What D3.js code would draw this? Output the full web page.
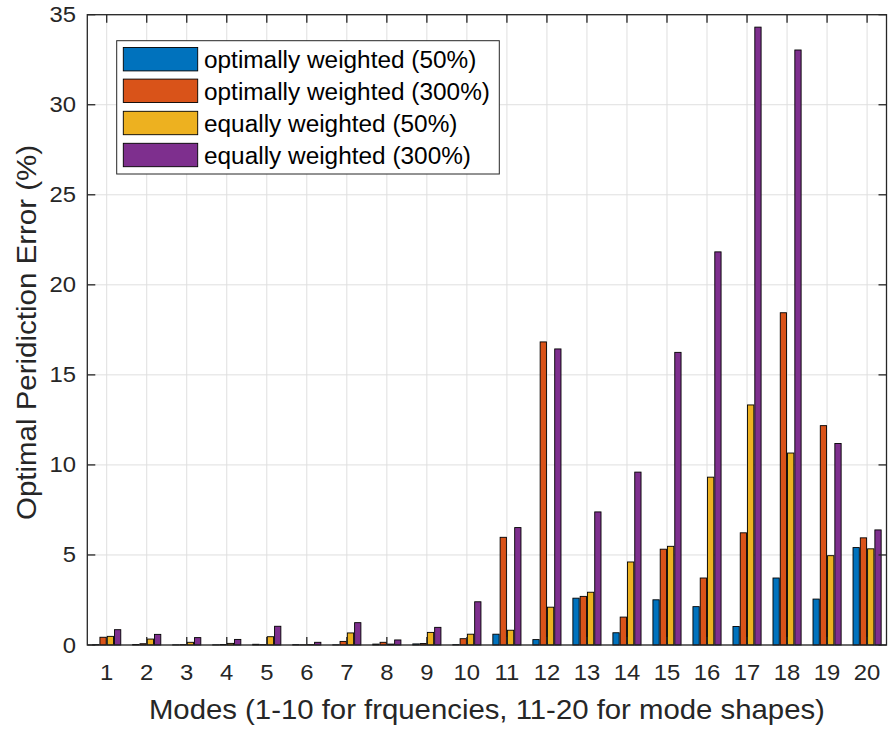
<!DOCTYPE html>
<html>
<head>
<meta charset="utf-8">
<script src="https://cdn.jsdelivr.net/npm/d3@7"></script>
<style>
  html, body { margin: 0; padding: 0; background: #fff; }
  svg { display: block; font-family: "Liberation Sans", Arial, Helvetica, sans-serif; }
</style>
</head>
<body>
<svg id="chart" width="888" height="729"></svg>
<script>
// Modes 1-10 are natural frequencies, 11-20 are mode shapes
const modes = d3.range(1, 21);

const seriesNames = [
  "optimally weighted (50%)",
  "optimally weighted (300%)",
  "equally weighted (50%)",
  "equally weighted (300%)"
];
const seriesColors = ["#0072BD", "#D95319", "#EDB120", "#7E2F8E"];

const optimal50  = [0.02, 0.03, 0.01, 0.01, 0.04, 0.02, 0.01, 0.05, 0.06, 0.02,
                    0.60, 0.30, 2.60, 0.68, 2.51, 2.13, 1.03, 3.72, 2.55, 5.41];
const optimal300 = [0.43, 0.07, 0.02, 0.03, 0.02, 0.01, 0.20, 0.15, 0.08, 0.35,
                    5.98, 16.83, 2.70, 1.55, 5.32, 3.72, 6.23, 18.45, 12.18, 5.95];
const equal50    = [0.48, 0.33, 0.15, 0.09, 0.46, 0.02, 0.67, 0.05, 0.70, 0.60,
                    0.82, 2.10, 2.93, 4.61, 5.48, 9.32, 13.33, 10.66, 4.96, 5.34];
const equal300   = [0.85, 0.59, 0.41, 0.31, 1.04, 0.15, 1.24, 0.28, 0.98, 2.40,
                    6.52, 16.44, 7.39, 9.60, 16.25, 21.83, 34.31, 33.04, 11.19, 6.39];

const yTicks = [0, 5, 10, 15, 20, 25, 30, 35];
const xLabel = "Modes (1-10 for frquencies, 11-20 for mode shapes)";
const yLabel = "Optimal Peridiction Error (%)";

const seriesValues = [optimal50, optimal300, equal50, equal300];

// Axes box
const boxL = 87.3, boxR = 886.5, boxT = 14.7, boxB = 645;
const svg = d3.select("#chart");

const x = d3.scaleLinear().domain([0.515, 20.485]).range([boxL, boxR]);
const y = d3.scaleLinear().domain([0, 35]).range([boxB, boxT]);

const axisColor = "#262626";
const gridColor = "#dfdfdf";
const tickLen = 8;
const textStretch = 1.06;   // slightly wide lettering

// Grid
const grid = svg.append("g");
grid.selectAll("line.gx").data(modes).join("line")
  .attr("x1", d => x(d)).attr("x2", d => x(d))
  .attr("y1", boxT).attr("y2", boxB)
  .attr("stroke", gridColor).attr("stroke-width", 1);
grid.selectAll("line.gy").data(yTicks).join("line")
  .attr("x1", boxL).attr("x2", boxR)
  .attr("y1", d => y(d)).attr("y2", d => y(d))
  .attr("stroke", gridColor).attr("stroke-width", 1);

// Grouped bars
const groupPitch = 0.182;   // bar pitch within a group, in mode units
const barW = 0.157;         // bar width, in mode units
const unit = x(1) - x(0);
const bars = svg.append("g");
seriesValues.forEach((vals, s) => {
  const off = (s - 1.5) * groupPitch;
  bars.append("g").selectAll("rect").data(vals).join("rect")
    .attr("x", (d, i) => x(modes[i] + off) - barW * unit / 2)
    .attr("width", barW * unit)
    .attr("y", d => y(d))
    .attr("height", d => y(0) - y(d))
    .attr("fill", seriesColors[s])
    .attr("stroke", "#000")
    .attr("stroke-width", 0.9);
});

// Axes box and inward ticks
const ax = svg.append("g").attr("stroke", axisColor).attr("stroke-width", 1.3);
ax.append("rect").attr("x", boxL).attr("y", boxT)
  .attr("width", boxR - boxL).attr("height", boxB - boxT)
  .attr("fill", "none");
modes.forEach(m => {
  ax.append("line").attr("x1", x(m)).attr("x2", x(m)).attr("y1", boxB).attr("y2", boxB - tickLen);
  ax.append("line").attr("x1", x(m)).attr("x2", x(m)).attr("y1", boxT).attr("y2", boxT + tickLen);
});
yTicks.forEach(t => {
  ax.append("line").attr("x1", boxL).attr("x2", boxL + tickLen).attr("y1", y(t)).attr("y2", y(t));
  ax.append("line").attr("x1", boxR).attr("x2", boxR - tickLen).attr("y1", y(t)).attr("y2", y(t));
});

// Stretch a text element horizontally along its own run
function widen(sel) {
  sel.each(function () {
    const w = this.getComputedTextLength();
    d3.select(this).attr("textLength", w * textStretch).attr("lengthAdjust", "spacingAndGlyphs");
  });
}

// Tick labels
const tickFont = 22.5;
svg.append("g").selectAll("text").data(modes).join("text")
  .attr("x", d => x(d)).attr("y", 680)
  .attr("text-anchor", "middle")
  .attr("font-size", tickFont).attr("fill", axisColor)
  .text(d => d)
  .call(widen);
svg.append("g").selectAll("text").data(yTicks).join("text")
  .attr("x", 76).attr("y", d => y(d))
  .attr("text-anchor", "end").attr("dominant-baseline", "central")
  .attr("font-size", tickFont).attr("fill", axisColor)
  .text(d => d)
  .call(widen);

// Axis labels
svg.append("text")
  .attr("x", (boxL + boxR) / 2).attr("y", 719)
  .attr("text-anchor", "middle")
  .attr("font-size", 28).attr("fill", axisColor)
  .attr("textLength", 676).attr("lengthAdjust", "spacingAndGlyphs")
  .text(xLabel);
svg.append("text")
  .attr("transform", `translate(35.5, ${(145 + 520) / 2}) rotate(-90)`)
  .attr("text-anchor", "middle")
  .attr("font-size", 28).attr("fill", axisColor)
  .attr("textLength", 375).attr("lengthAdjust", "spacingAndGlyphs")
  .text(yLabel);

// Legend
const lg = svg.append("g");
lg.append("rect").attr("x", 116.7).attr("y", 40.7)
  .attr("width", 499.3 - 116.7).attr("height", 174 - 40.7)
  .attr("fill", "#fff").attr("stroke", axisColor).attr("stroke-width", 1);
const rowY = [59.2, 90.8, 123.0, 155.0];
seriesNames.forEach((name, i) => {
  lg.append("rect").attr("x", 123.3).attr("y", rowY[i] - 11.7)
    .attr("width", 74.4).attr("height", 23.4)
    .attr("fill", seriesColors[i]).attr("stroke", "#000").attr("stroke-width", 0.9);
  lg.append("text").attr("x", 204).attr("y", rowY[i] + 1)
    .attr("dominant-baseline", "central")
    .attr("font-size", 23).attr("fill", "#000")
    .text(name)
    .call(widen);
});
</script>
</body>
</html>
